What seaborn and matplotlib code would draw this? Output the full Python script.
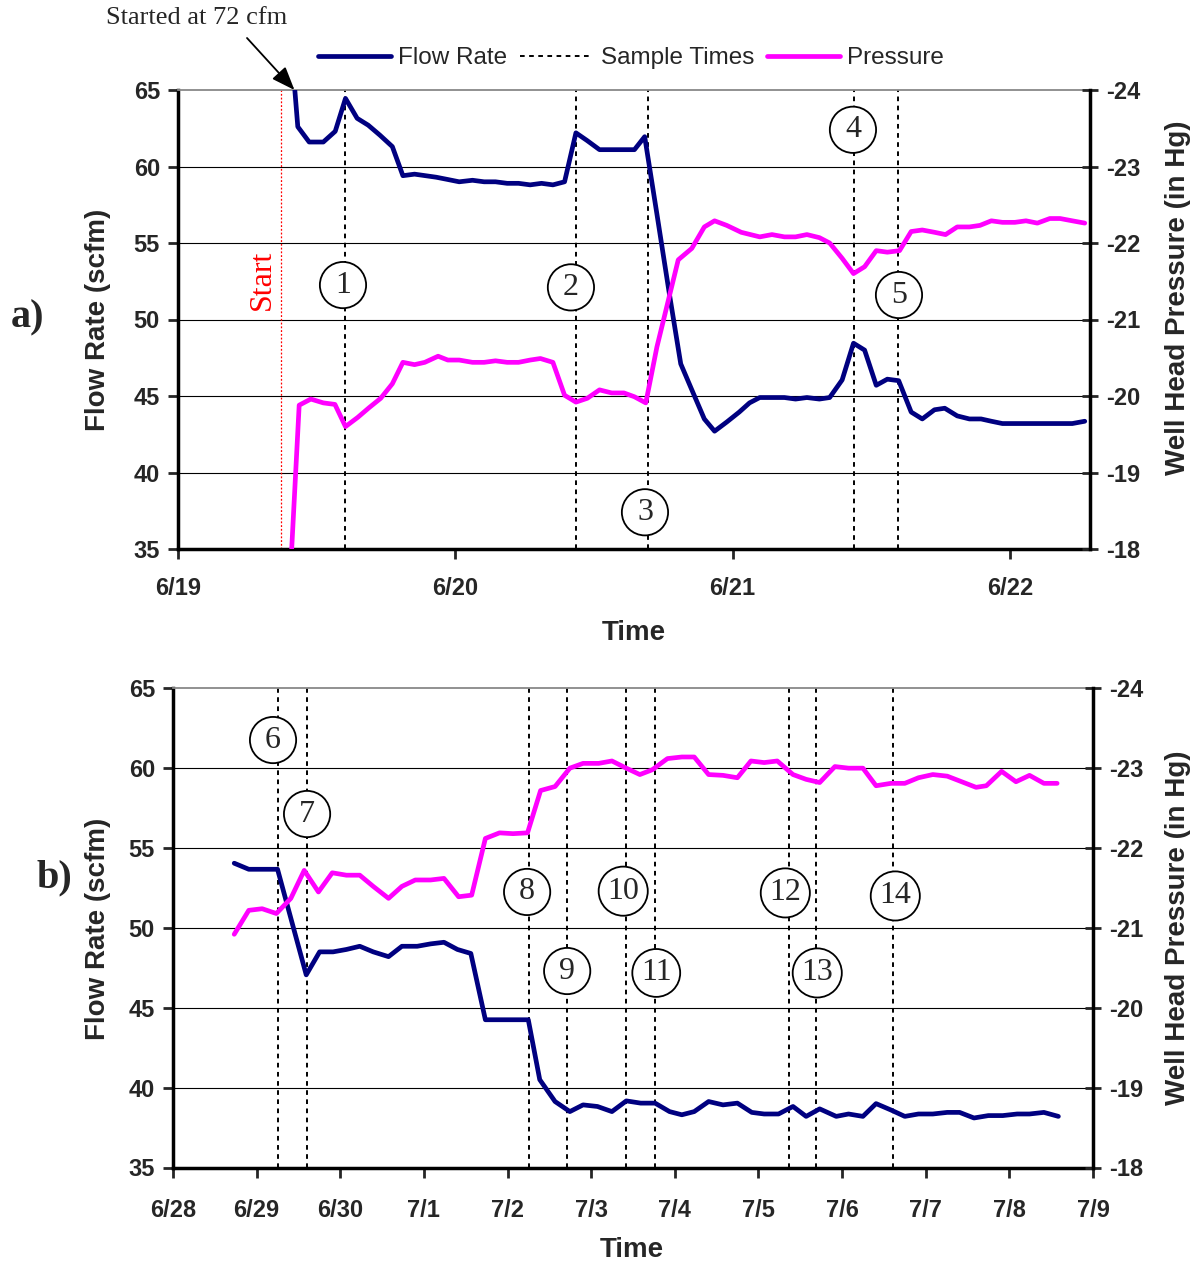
import matplotlib
matplotlib.use("Agg")
import matplotlib.pyplot as plt
import matplotlib.lines as mlines
import seaborn as sns

# ---------------- panel a) : days after 6/19 00:00 ----------------
top_flow_days = [0.39, 0.432, 0.473, 0.524, 0.567, 0.604, 0.646, 0.686, 0.728, 0.773,
                 0.811, 0.853, 0.892, 0.931, 0.973, 1.014, 1.062, 1.104, 1.145, 1.187,
                 1.228, 1.270, 1.311, 1.352, 1.394, 1.435, 1.475, 1.520, 1.564, 1.608,
                 1.646, 1.683, 1.727, 1.770, 1.813, 1.853, 1.898, 1.935, 1.979, 2.024,
                 2.061, 2.098, 2.142, 2.187, 2.227, 2.268, 2.313, 2.350, 2.395, 2.436,
                 2.476, 2.518, 2.558, 2.599, 2.644, 2.684, 2.728, 2.765, 2.810, 2.854,
                 2.896, 2.933, 2.973, 3.018, 3.058, 3.099, 3.144, 3.181, 3.225, 3.270]
top_flow = [72.0, 62.6, 61.6, 61.6, 62.3, 64.45, 63.15, 62.7, 62.05, 61.3,
            59.4, 59.5, 59.4, 59.3, 59.15, 59.0, 59.1, 59.0, 59.0, 58.9,
            58.9, 58.8, 58.9, 58.8, 59.0, 62.2, 61.7, 61.1, 61.1, 61.1,
            61.1, 61.95, 56.9, 51.9, 47.1, 45.4, 43.5, 42.7, 43.3, 43.95,
            44.55, 44.9, 44.9, 44.9, 44.8, 44.9, 44.8, 44.9, 46.05, 48.45,
            48.0, 45.7, 46.1, 46.0, 43.95, 43.5, 44.1, 44.2, 43.7, 43.5,
            43.5, 43.35, 43.2, 43.2, 43.2, 43.2, 43.2, 43.2, 43.2, 43.35]

top_press_days = [0.410, 0.437, 0.479, 0.524, 0.566, 0.604, 0.648, 0.690, 0.731, 0.773,
                  0.811, 0.853, 0.890, 0.938, 0.973, 1.014, 1.062, 1.104, 1.145, 1.187,
                  1.228, 1.270, 1.307, 1.352, 1.394, 1.435, 1.476, 1.520, 1.564, 1.608,
                  1.646, 1.687, 1.727, 1.804, 1.853, 1.898, 1.935, 1.979, 2.031, 2.098,
                  2.142, 2.187, 2.227, 2.268, 2.313, 2.350, 2.395, 2.436, 2.476, 2.518,
                  2.558, 2.602, 2.644, 2.684, 2.728, 2.768, 2.810, 2.854, 2.892, 2.933,
                  2.973, 3.018, 3.058, 3.099, 3.144, 3.181, 3.225, 3.270]
top_press = [-18.00, -19.88, -19.96, -19.91, -19.89, -19.60, -19.72, -19.85, -19.97, -20.16,
             -20.44, -20.41, -20.44, -20.52, -20.47, -20.47, -20.44, -20.44, -20.46, -20.44,
             -20.44, -20.47, -20.49, -20.44, -20.01, -19.92, -19.97, -20.08, -20.04, -20.04,
             -19.99, -19.91, -20.64, -21.78, -21.93, -22.21, -22.29, -22.23, -22.14, -22.08,
             -22.11, -22.08, -22.08, -22.11, -22.07, -22.00, -21.80, -21.60, -21.69, -21.90,
             -21.88, -21.90, -22.15, -22.17, -22.14, -22.11, -22.21, -22.21, -22.23, -22.29,
             -22.27, -22.27, -22.29, -22.26, -22.32, -22.32, -22.29, -22.26]

top_samples = [0.604, 1.435, 1.695, 2.439, 2.598]
top_sample_ids = ["1", "2", "3", "4", "5"]
top_start_day = 0.371
top_dates = ["6/19", "6/20", "6/21", "6/22"]

# ---------------- panel b) : days after 6/28 00:00 ----------------
bot_flow_days = [0.732, 0.906, 1.250, 1.593, 1.753, 1.914, 2.073, 2.233, 2.394, 2.577,
                 2.737, 2.920, 3.080, 3.240, 3.401, 3.561, 3.735, 4.248, 4.385, 4.568,
                 4.745, 4.903, 5.075, 5.248, 5.420, 5.592, 5.764, 5.937, 6.084, 6.232,
                 6.404, 6.576, 6.748, 6.920, 7.068, 7.240, 7.413, 7.570, 7.732, 7.930,
                 8.077, 8.249, 8.406, 8.584, 8.750, 8.913, 9.085, 9.257, 9.405, 9.577,
                 9.749, 9.921, 10.093, 10.241, 10.413, 10.586]
bot_flow = [54.05, 53.67, 53.67, 47.06, 48.5, 48.5, 48.65, 48.85, 48.5, 48.2,
            48.85, 48.85, 49.0, 49.1, 48.65, 48.4, 44.25, 44.25, 40.5, 39.13,
            38.5, 38.92, 38.82, 38.5, 39.17, 39.03, 39.03, 38.5, 38.3, 38.5,
            39.13, 38.92, 39.03, 38.45, 38.35, 38.35, 38.82, 38.2, 38.67, 38.2,
            38.35, 38.2, 39.0, 38.6, 38.2, 38.35, 38.35, 38.45, 38.45, 38.1,
            38.25, 38.25, 38.35, 38.35, 38.45, 38.2]

bot_press_days = [0.732, 0.906, 1.066, 1.236, 1.409, 1.569, 1.739, 1.904, 2.073, 2.233,
                  2.394, 2.577, 2.737, 2.897, 3.080, 3.240, 3.415, 3.571, 3.735, 3.904,
                  4.065, 4.239, 4.395, 4.568, 4.745, 4.903, 5.090, 5.248, 5.420, 5.582,
                  5.730, 5.912, 6.084, 6.232, 6.404, 6.576, 6.748, 6.910, 7.068, 7.225,
                  7.413, 7.570, 7.732, 7.914, 8.077, 8.249, 8.406, 8.584, 8.750, 8.913,
                  9.085, 9.257, 9.430, 9.602, 9.725, 9.907, 10.079, 10.241, 10.413, 10.571]
bot_press = [-20.92, -21.22, -21.24, -21.18, -21.37, -21.72, -21.45, -21.69, -21.66, -21.66,
             -21.52, -21.37, -21.52, -21.60, -21.60, -21.62, -21.39, -21.41, -22.12, -22.19,
             -22.18, -22.19, -22.72, -22.77, -23.00, -23.06, -23.06, -23.09, -23.00, -22.92,
             -22.98, -23.12, -23.14, -23.14, -22.92, -22.91, -22.88, -23.09, -23.07, -23.09,
             -22.92, -22.86, -22.82, -23.02, -23.00, -23.00, -22.78, -22.81, -22.81, -22.88,
             -22.92, -22.90, -22.83, -22.76, -22.78, -22.96, -22.83, -22.91, -22.81, -22.81]

bot_samples = [1.254, 1.602, 4.257, 4.713, 5.420, 5.769, 7.368, 7.692, 8.608]
bot_sample_ids = ["6", "7", "8", "9", "10", "11", "12", "13", "14"]
bot_dates = ["6/28", "6/29", "6/30", "7/1", "7/2", "7/3", "7/4", "7/5", "7/6", "7/7", "7/8", "7/9"]

flow_ticks = [35, 40, 45, 50, 55, 60, 65]
press_ticks = [-18, -19, -20, -21, -22, -23, -24]

# label spots for the circled sample numbers (day, flow units)
top_circle_pos = [(0.595, 52.25), (1.417, 52.1), (1.684, 37.4), (2.434, 62.4), (2.600, 51.6)]
bot_circle_pos = [(1.196, 61.76), (1.603, 57.13), (4.234, 52.25), (4.713, 47.3), (5.383, 52.3),
                  (5.778, 47.18), (7.321, 52.19), (7.703, 47.18), (8.636, 52.0)]

NAVY = "#000080"
MAGENTA = "#FF00FF"
SANS = ["Liberation Sans", "DejaVu Sans"]
SERIF = ["Liberation Serif", "DejaVu Serif"]
SAMPLE_STYLE = dict(color="black", lw=1.4, linestyle=(0, (2.4, 2.3)))

sns.set_style("white")
plt.rcParams["font.family"] = SANS

W, H = 1195, 1264
fig = plt.figure(figsize=(W / 100, H / 100), dpi=100)


def make_panel(rect, flow_days, flow, press_days, press, samples, ids, circle_pos,
               dates, xmax, xpad):
    ax = fig.add_axes(rect)
    ax2 = ax.twinx()

    for v in flow_ticks[1:-1]:
        ax.axhline(v, color="black", lw=0.8, zorder=0)
    for s in samples:
        ax.axvline(s, zorder=1, **SAMPLE_STYLE)

    sns.lineplot(x=flow_days, y=flow, ax=ax, color=NAVY, linewidth=3.4, sort=False, zorder=3)
    sns.lineplot(x=press_days, y=press, ax=ax2, color=MAGENTA, linewidth=3.4, sort=False, zorder=3)

    ax.set_xlim(0, xmax)
    ax.set_ylim(35, 65)
    ax2.set_ylim(-18, -24)
    ax.set_xlabel("")
    ax.set_ylabel("")
    ax2.set_ylabel("")

    ax.set_xticks(range(len(dates)), labels=dates, fontweight="bold", fontsize=17)
    ax.set_yticks(flow_ticks, labels=[str(t) for t in flow_ticks], fontweight="bold", fontsize=17)
    ax2.set_yticks(press_ticks, labels=[str(t) for t in press_ticks], fontweight="bold", fontsize=17)

    ax.tick_params(axis="y", direction="out", length=7, width=2, pad=6, left=True, right=False)
    ax.tick_params(axis="x", direction="out", length=7, width=2, pad=xpad, bottom=True)
    ax2.tick_params(axis="y", direction="inout", length=11, width=2, pad=6, right=True, left=False)

    for sp in ["left", "bottom"]:
        ax.spines[sp].set_linewidth(2.5)
        ax.spines[sp].set_color("black")
    ax.spines["top"].set_color("#888888")
    ax.spines["top"].set_linewidth(1.3)
    ax.spines["right"].set_visible(False)
    for sp in ["left", "bottom", "top"]:
        ax2.spines[sp].set_visible(False)
    ax2.spines["right"].set_linewidth(2.5)
    ax2.spines["right"].set_color("black")

    for (cx, cy), s in zip(circle_pos, ids):
        ax2.text(cx, cy, s, transform=ax.transData, ha="center", va="center",
                 fontsize=23, family=SERIF, zorder=10,
                 bbox=dict(boxstyle="circle,pad=0.27", fc="white", ec="black", lw=1.3))
    return ax, ax2


ax_a, ax_a2 = make_panel([178 / W, 1 - 549 / H, (1090 - 178) / W, (549 - 90) / H],
                         top_flow_days, top_flow, top_press_days, top_press,
                         top_samples, top_sample_ids, top_circle_pos,
                         top_dates, (1090 - 178) / 277.3, 13)
ax_b, ax_b2 = make_panel([173 / W, 1 - 1167.5 / H, (1093 - 173) / W, (1167.5 - 688.3) / H],
                         bot_flow_days, bot_flow, bot_press_days, bot_press,
                         bot_samples, bot_sample_ids, bot_circle_pos,
                         bot_dates, 11, 16)

# start marker in panel a
ax_a.axvline(top_start_day, color="red", lw=0.9, linestyle=(0, (1.5, 1.5)), zorder=1)
ax_a.text(0.303, 52.6, "Start", color="red", rotation=90, ha="center", va="center",
          fontsize=23, family=SERIF)
fig.text(197 / W, 1 - 18 / H, "Started at 72 cfm", ha="center", va="center",
         fontsize=19, family=SERIF)
ax_a.annotate("", xy=(0.42, 65), xycoords="data",
              xytext=(247, H - 38), textcoords="figure pixels",
              arrowprops=dict(arrowstyle="-|>,head_length=1.3,head_width=0.5",
                              color="black", lw=1.3, shrinkA=0, shrinkB=0,
                              mutation_scale=11),
              annotation_clip=False)

# axis titles
for yc in [320, 929]:
    fig.text(98 / W, 1 - yc / H, "Flow Rate (scfm)", rotation=90, ha="center", va="center",
             fontsize=20, fontweight="bold")
for yc in [298, 928]:
    fig.text(1178 / W, 1 - yc / H, "Well Head Pressure (in Hg)", rotation=90, ha="center",
             va="center", fontsize=20, fontweight="bold")
fig.text(634 / W, 1 - 633 / H, "Time", ha="center", va="center", fontsize=20, fontweight="bold")
fig.text(632 / W, 1 - 1250 / H, "Time", ha="center", va="center", fontsize=20, fontweight="bold")

fig.text(28 / W, 1 - 318 / H, "a)", ha="center", va="center", fontsize=29,
         fontweight="bold", family=SERIF)
fig.text(54 / W, 1 - 878 / H, "b)", ha="center", va="center", fontsize=29,
         fontweight="bold", family=SERIF)

# legend on top
handles = [mlines.Line2D([], [], color=NAVY, lw=3.4),
           mlines.Line2D([], [], **SAMPLE_STYLE),
           mlines.Line2D([], [], color=MAGENTA, lw=3.4)]
fig.legend(handles, ["Flow Rate", "Sample Times", "Pressure"], loc="center",
           bbox_to_anchor=(631 / W, 1 - 58 / H), ncol=3, frameon=False, fontsize=17.5,
           handlelength=3.0, handletextpad=0.3, columnspacing=0.55)

fig.savefig("out.png", dpi=100)
